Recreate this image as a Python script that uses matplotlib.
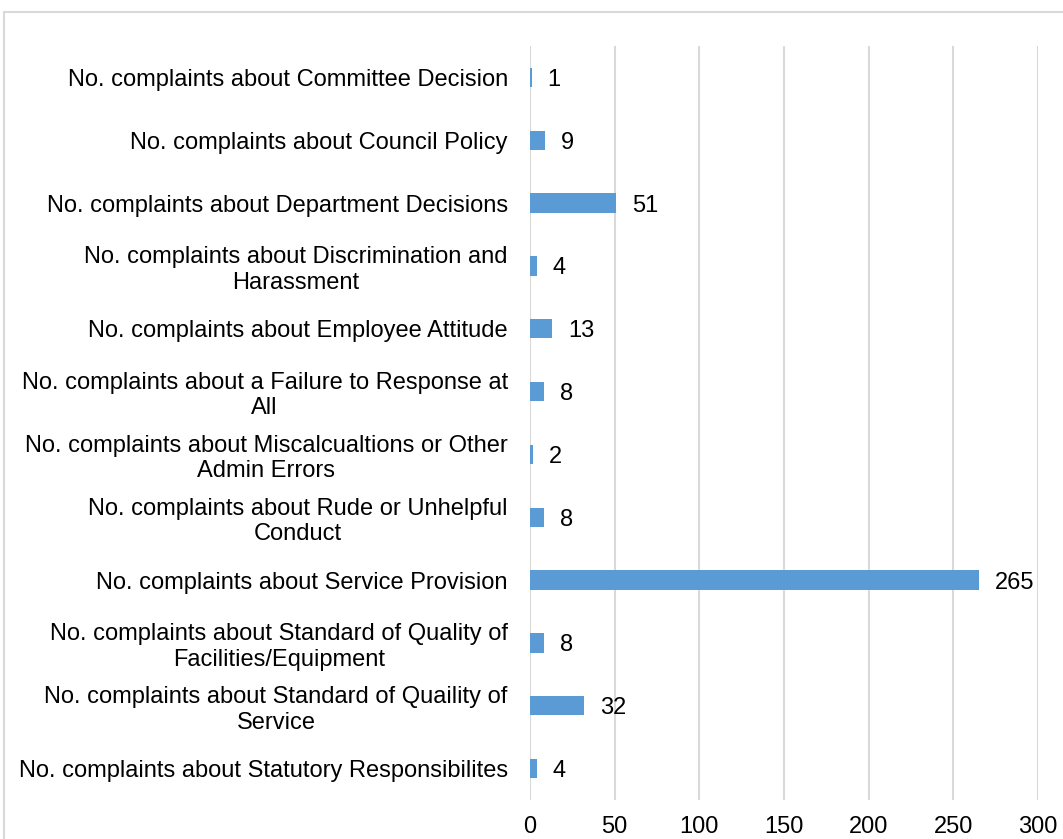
import matplotlib
matplotlib.use("Agg")
import matplotlib.pyplot as plt
from matplotlib.patches import Rectangle

categories = [
    "No. complaints about Committee Decision",
    "No. complaints about Council Policy",
    "No. complaints about Department Decisions",
    "No. complaints about Discrimination and\nHarassment",
    "No. complaints about Employee Attitude",
    "No. complaints about a Failure to Response at\nAll",
    "No. complaints about Miscalcualtions or Other\nAdmin Errors",
    "No. complaints about Rude or Unhelpful\nConduct",
    "No. complaints about Service Provision",
    "No. complaints about Standard of Quality of\nFacilities/Equipment",
    "No. complaints about Standard of Quaility of\nService",
    "No. complaints about Statutory Responsibilites",
]
values = [1, 9, 51, 4, 13, 8, 2, 8, 265, 8, 32, 4]
xticks = [0, 50, 100, 150, 200, 250, 300]

plt.rcParams["font.family"] = ["Liberation Sans", "DejaVu Sans"]
FS = 17
W, H = 1063, 839
fig = plt.figure(figsize=(W / 100, H / 100), dpi=100)
# chart border (cropped on right/bottom)
fig.patches.append(Rectangle((4 / W, -0.01), 1.1, 1 - 12 / H + 0.01, transform=fig.transFigure,
                             fill=False, edgecolor="#d9d9d9", lw=1.5))

ax = fig.add_axes([530 / W, 1 - 800 / H, (1038 - 530) / W, (800 - 46) / H])
y = range(len(categories))
ax.barh(y, values, height=0.31, color="#5b9bd5", zorder=2)
for yi, v in zip(y, values):
    ax.annotate(str(v), (v, yi), xytext=(11.5, 0), textcoords="offset points",
                va="center_baseline", ha="left", fontsize=FS, color="#000000")
ax.set_yticks(list(y))
ax.set_yticklabels(categories, fontsize=FS, multialignment="center", linespacing=1.2)
ax.set_ylim(len(categories) - 0.5, -0.5)
ax.set_xlim(0, 300)
ax.set_xticks(xticks)
ax.tick_params(axis="x", labelsize=FS, length=0, pad=11.5)
ax.tick_params(axis="y", length=0, pad=16)
ax.grid(axis="x", color="#d9d9d9", lw=1.5, zorder=0)
for s in ax.spines.values():
    s.set_visible(False)

fig.savefig("out.png", dpi=100)
